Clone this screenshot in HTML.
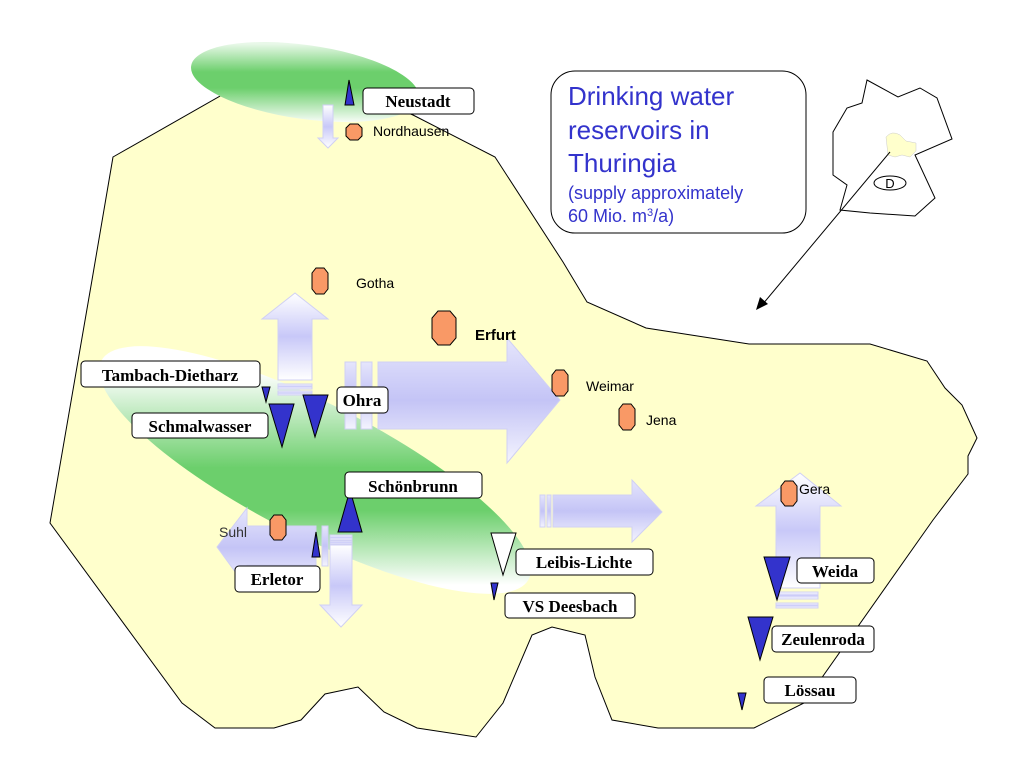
<!DOCTYPE html>
<html><head><meta charset="utf-8"><style>
html,body{margin:0;padding:0;background:#fff}
svg{display:block}
.lb{font-family:"Liberation Serif",serif;font-weight:bold;font-size:17px;fill:#000}
.ct{font-family:"Liberation Sans",sans-serif;font-size:14px;fill:#000}
.bx{fill:#fff;stroke:#000;stroke-width:1}
.tri{fill:#3333cc;stroke:#000;stroke-width:1}
.city{fill:#f99966;stroke:#000;stroke-width:1}
.ttl{font-family:"Liberation Sans",sans-serif;fill:#3333cc}
</style></head><body>
<svg width="1024" height="768" viewBox="0 0 1024 768" xmlns="http://www.w3.org/2000/svg">
<defs>
<linearGradient id="g1" gradientUnits="userSpaceOnUse" x1="0" y1="44" x2="0" y2="124" gradientTransform="rotate(-8 305 82)">
<stop offset="0" stop-color="#e8f8e8"/><stop offset="0.35" stop-color="#6ccf6c"/><stop offset="0.55" stop-color="#6ccf6c"/><stop offset="1" stop-color="#fff"/></linearGradient>
<linearGradient id="g2" gradientUnits="userSpaceOnUse" x1="0" y1="372" x2="0" y2="585" gradientTransform="rotate(-27 315 470)">
<stop offset="0" stop-color="#fff"/><stop offset="0.45" stop-color="#6ccf6c"/><stop offset="0.65" stop-color="#6ccf6c"/><stop offset="1" stop-color="#fff"/></linearGradient>
<linearGradient id="av" x1="0" y1="0" x2="0" y2="1">
<stop offset="0" stop-color="#fff"/><stop offset="0.5" stop-color="#c8c8f8"/><stop offset="1" stop-color="#fff"/></linearGradient>
<linearGradient id="ah" x1="0" y1="0" x2="0" y2="1">
<stop offset="0" stop-color="#e6e6fc"/><stop offset="0.5" stop-color="#c4c4f6"/><stop offset="1" stop-color="#f4f4fe"/></linearGradient>
</defs>
<polygon points="113,157 222,95 305,70 413,115 495,157 563,262 587,302 646,328 749,344 870,344 927,361 945,388 962,405 977,438 968,456 968,474 933,520 804,703 754,728 658,728 612,720 595,677 585,635 552,627 532,635 503,703 476,737 417,728 384,712 358,687 325,694 301,720 274,728 215,728 182,703 50,523 92,280" fill="#ffffcc" stroke="#000" stroke-width="1"/>
<ellipse cx="305" cy="82" rx="115" ry="37" transform="rotate(8 305 82)" fill="url(#g1)"/>
<ellipse cx="315" cy="470" rx="240" ry="66" transform="rotate(27 315 470)" fill="url(#g2)"/>
<g fill="url(#av)" stroke="#d0d0f4" stroke-width="1">
<polygon points="323,105 333,105 333,138 338,138 328,148 318,138 323,138"/>
<polygon points="278,380 278,319 262,319 295,293 328,319 312,319 312,380"/>
<rect x="278" y="384" width="34" height="5"/><rect x="278" y="391" width="34" height="4"/>
<polygon points="330,545 352,545 352,605 362,605 341,627 320,605 330,605"/>
<rect x="330" y="535" width="22" height="5"/><rect x="330" y="541" width="22" height="3"/>
<polygon points="776,588 776,506 756,506 800,473 841,506 820,506 820,588"/>
<rect x="776" y="592" width="42" height="7"/><rect x="776" y="603" width="42" height="5"/>
</g>
<g fill="url(#ah)" stroke="#d0d0f4" stroke-width="1">
<polygon points="378,362 507,362 507,338 560,400 507,463 507,429 378,429"/>
<rect x="345" y="362" width="11" height="67"/><rect x="361" y="362" width="11" height="67"/>
<polygon points="553,495 632,495 632,480 662,512 632,542 632,527 553,527"/>
<rect x="540" y="495" width="5" height="32"/><rect x="547" y="495" width="4" height="32"/>
<polygon points="316,526 247,526 247,508 217,547 247,588 247,565 316,565"/>
<rect x="322" y="526" width="6" height="40"/>
</g>
<g class="city">
<polygon points="350,124 358,124 362,128 362,136 358,140 350,140 346,136 346,128"/>
<polygon points="316,268 324,268 328,273 328,289 324,294 316,294 312,289 312,273"/>
<polygon points="438,311 450,311 456,318 456,338 450,345 438,345 432,338 432,318"/>
<polygon points="556,370 564,370 568,375 568,391 564,396 556,396 552,391 552,375"/>
<polygon points="623,404 631,404 635,409 635,425 631,430 623,430 619,425 619,409"/>
<polygon points="274,515 282,515 286,520 286,535 282,540 274,540 270,535 270,520"/>
<polygon points="785,481 793,481 797,486 797,501 793,506 785,506 781,501 781,486"/>
</g>
<text class="ct" x="373" y="136">Nordhausen</text>
<text class="ct" x="356" y="288">Gotha</text>
<text class="ct" x="475" y="340" style="font-weight:bold;font-size:15px">Erfurt</text>
<text class="ct" x="586" y="391">Weimar</text>
<text class="ct" x="646" y="425">Jena</text>
<text class="ct" x="219" y="537" style="fill:#333">Suhl</text>
<text class="ct" x="799" y="494">Gera</text>
<g class="tri">
<polygon points="349,80 345,105 354,105"/>
<polygon points="262,387 270,387 266,402"/>
<polygon points="269,404 294,404 282,447"/>
<polygon points="303,395 328,395 315,437"/>
<polygon points="338,532 362,532 350,490"/>
<polygon points="312,557 320,557 316,532"/>
<polygon points="491,533 516,533 503,575" style="fill:#fff"/>
<polygon points="491,583 498,583 494,600"/>
<polygon points="764,557 790,557 777,600"/>
<polygon points="748,617 773,617 760,660"/>
<polygon points="738,693 746,693 742,710"/>
</g>
<g class="bx">
<rect x="363" y="88" width="111" height="26" rx="4"/>
<rect x="81" y="361" width="179" height="26" rx="4"/>
<rect x="132" y="413" width="136" height="25" rx="4"/>
<rect x="337" y="387" width="51" height="26" rx="4"/>
<rect x="345" y="472" width="137" height="26" rx="4"/>
<rect x="235" y="566" width="85" height="26" rx="4"/>
<rect x="516" y="549" width="137" height="26" rx="4"/>
<rect x="505" y="593" width="130" height="25" rx="4"/>
<rect x="797" y="558" width="77" height="25" rx="4"/>
<rect x="772" y="626" width="102" height="26" rx="4"/>
<rect x="764" y="677" width="92" height="26" rx="4"/>
</g>
<g class="lb" text-anchor="middle">
<text x="418" y="107">Neustadt</text>
<text x="170" y="381">Tambach-Dietharz</text>
<text x="200" y="432">Schmalwasser</text>
<text x="362" y="406">Ohra</text>
<text x="413" y="492">Schönbrunn</text>
<text x="277" y="585">Erletor</text>
<text x="584" y="568">Leibis-Lichte</text>
<text x="570" y="612">VS Deesbach</text>
<text x="835" y="577">Weida</text>
<text x="823" y="645">Zeulenroda</text>
<text x="810" y="696">Lössau</text>
</g>
<rect x="551" y="71" width="255" height="162" rx="24" fill="#fff" stroke="#000" stroke-width="1"/>
<text class="ttl" x="568" y="105" font-size="26">Drinking water</text>
<text class="ttl" x="568" y="139" font-size="26">reservoirs in</text>
<text class="ttl" x="568" y="172" font-size="26">Thuringia</text>
<text class="ttl" x="568" y="199" font-size="18">(supply approximately</text>
<text class="ttl" x="568" y="222" font-size="18">60 Mio. m<tspan font-size="11" dy="-6">3</tspan><tspan dy="6">/a)</tspan></text>
<polygon points="867,80 898,97 920,88 937,98 952,139 915,155 935,198 915,216 870,213 840,210 847,185 833,175 833,132 847,108 862,103" fill="#fff" stroke="#000" stroke-width="1"/>
<path d="M886,137 Q892,130 900,135 L906,141 L916,143 L916,151 L910,157 L902,155 L895,157 L888,155 Z" fill="#ffffcc" stroke="#ccc" stroke-width="0.5"/>
<ellipse cx="890" cy="183" rx="16" ry="7" fill="#fff" stroke="#000"/>
<text x="890" y="188" text-anchor="middle" font-family="Liberation Sans,sans-serif" font-size="13">D</text>
<line x1="890" y1="152" x2="762" y2="305" stroke="#000" stroke-width="1"/>
<polygon points="756,310 760,297 768,304" fill="#000"/>
</svg>
</body></html>
